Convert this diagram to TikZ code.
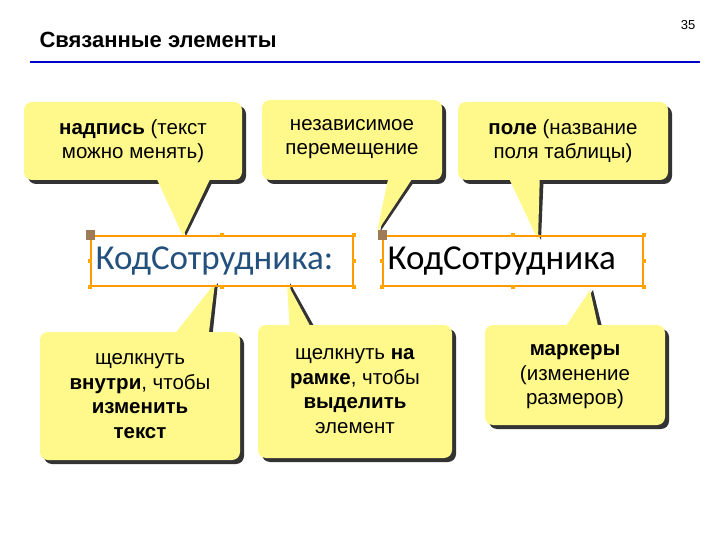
\documentclass[tikz,border=0pt]{standalone}
\usepackage{fontspec}
\setmainfont{Liberation Sans}
\newfontfamily\calib{Carlito}
\definecolor{steel}{RGB}{35,80,125}
\begin{document}
\begin{tikzpicture}[x=1pt,y=-1pt,
  txt/.style={font=\fontsize{20.5}{24.5}\selectfont,align=center,text=black},
  fld/.style={draw=orange!80!yellow,line width=2pt},
  hnd/.style={fill=orange!70!yellow,minimum size=4pt,inner sep=0pt},
  bighnd/.style={fill=brown!70!black!80,minimum size=9pt,inner sep=0pt}]
\path[use as bounding box] (0,0) rectangle (720,540);
\node[anchor=west,font=\bfseries\fontsize{22}{25}\selectfont] (title) at (36,40) {Связанные элементы};
\node[font=\fontsize{13}{15}\selectfont] (pg) at (688,25) {35};
\coordinate (l1) at (30,62); \coordinate (l2) at (700,62);
\draw[blue!80!black,line width=1.5pt] (l1) -- (l2);
\newcommand\callout[9]{%
  \fill[black!80,rounded corners=8pt] (#1+4,#2+4) rectangle (#3+4,#4+4);
  \fill[black!80] (#5+4,#7) -- (#6+4,#7) -- (#8+3,#9) -- cycle;
  \fill[yellow!45,rounded corners=8pt] (#1,#2) rectangle (#3,#4);
  \fill[yellow!45] (#5,#7) -- (#6,#7) -- (#8,#9) -- cycle;}
\callout{24}{102}{242}{180}{155}{212}{175}{183}{236}
\callout{262}{100}{442}{180}{390}{418}{170}{377}{232}
\callout{458}{102}{668}{180}{505}{540}{170}{538}{240}
\callout{40}{332}{240}{460}{170}{208}{340}{215}{283}
\callout{258}{325}{452}{458}{290}{315}{335}{287}{283}
\callout{485}{325}{665}{425}{560}{600}{335}{590}{290}
\node[txt] (c1) at (133,141) {\textbf{надпись} (текст\\можно менять)};
\node[txt] (c2) at (352,139) {независимое\\перемещение};
\node[txt] (c3) at (563,141) {\textbf{поле} (название\\поля таблицы)};
\node[txt] (c4) at (140,396) {щелкнуть\\\textbf{внутри}, чтобы\\\textbf{изменить}\\\textbf{текст}};
\node[txt] (c5) at (355,391) {щелкнуть \textbf{на}\\\textbf{рамке}, чтобы\\\textbf{выделить}\\элемент};
\node[txt] (c6) at (575,377) {\textbf{маркеры}\\(изменение\\размеров)};
\node[fld,minimum width=262pt,minimum height=50pt,anchor=north west,inner sep=0pt] (f1) at (90,235) {};
\node[anchor=west,font=\calib\fontsize{35}{38}\selectfont,text=steel] (t1) at (92,261) {КодСотрудника:};
\node[fld,minimum width=260pt,minimum height=50pt,anchor=north west,inner sep=0pt] (f2) at (382,235) {};
\node[anchor=west,font=\calib\fontsize{35}{38}\selectfont] (t2) at (384,261) {КодСотрудника};
\foreach \f in {f1,f2}{
  \foreach \a in {north,south,east,west,north east,south east,south west}{
    \node[hnd] at (\f.\a) {};}
  \node[bighnd] at (\f.north west) {};}
\end{tikzpicture}
\end{document}
